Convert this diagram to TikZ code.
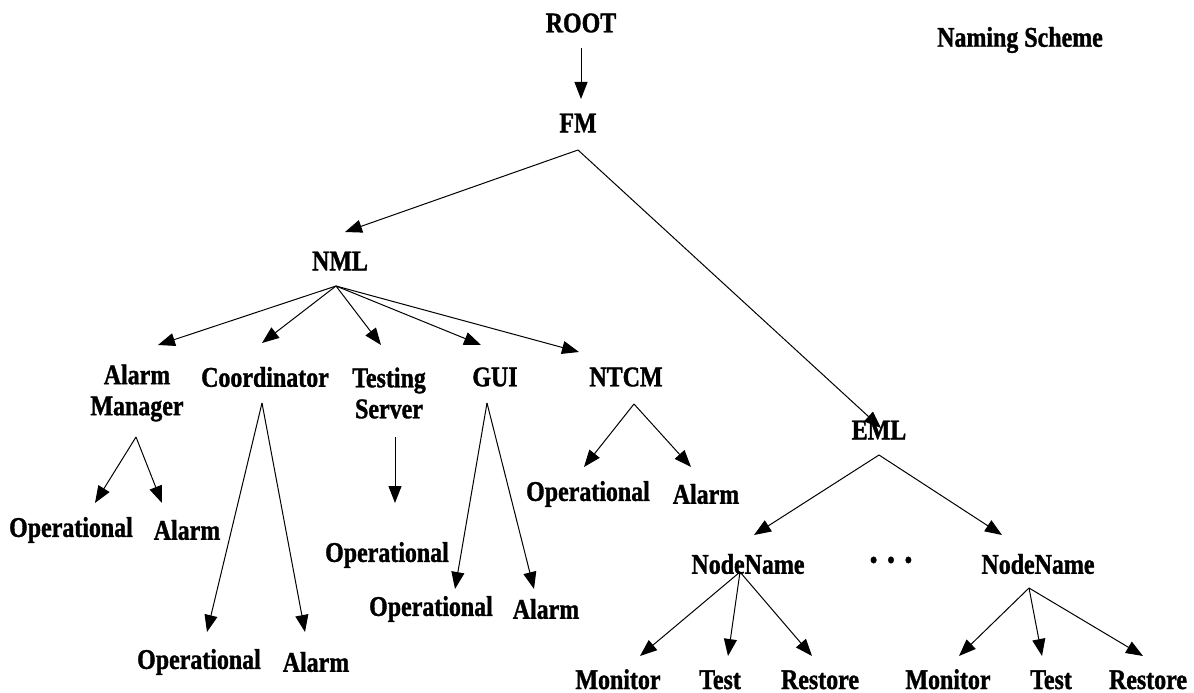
\documentclass[tikz,border=0pt]{standalone}
\usepackage{fontspec}
\setmainfont{Liberation Serif}[FakeStretch=0.84,FakeBold=1.2]
\usetikzlibrary{arrows.meta}
\begin{document}
\begin{tikzpicture}[x=1pt,y=-1pt,
  lbl/.style={inner sep=0pt,align=center,font=\fontsize{28.5}{31}\selectfont\bfseries},
  low/.style={lbl,anchor=base},
  arr/.style={-{Triangle[length=17pt,width=13pt]},line width=1pt}]
\useasboundingbox (0,0) rectangle (1194,693);

% labels
\node[lbl] (root) at (581,23) {ROOT};
\node[lbl] (fm) at (578,123) {FM};
\node[lbl] (nml) at (340,261) {NML};
\node[lbl] (naming) at (1020,40) {Naming Scheme};
\node[lbl] (am) at (137,393) {Alarm\\Manager};
\node[lbl] (coord) at (265,377) {Coordinator};
\node[lbl] (ts) at (389,393) {Testing\\Server};
\node[lbl] (gui) at (495,377) {GUI};
\node[lbl] (ntcm) at (626,377) {NTCM};
\node[lbl] (eml) at (879,430) {EML};
\node[lbl] (amop) at (71,530) {Operational};
\node[lbl] (amal) at (187,530) {Alarm};
\node[lbl] (coop) at (199,662) {Operational};
\node[lbl] (coal) at (316,662) {Alarm};
\node[lbl] (tsop) at (387,555) {Operational};
\node[lbl] (guop) at (431,609) {Operational};
\node[lbl] (gual) at (546,609) {Alarm};
\node[lbl] (ntop) at (588,494) {Operational};
\node[lbl] (ntal) at (706,494) {Alarm};
\node[lbl] (nn1) at (748,564) {NodeName};
\node[lbl,font=\fontsize{40}{40}\selectfont\bfseries] (dots) at (891,560) {.\hspace{9pt}.\hspace{9pt}.};
\node[lbl] (nn2) at (1038,564) {NodeName};
\node[low] (mon1) at (618,689) {Monitor};
\node[low] (tst1) at (720,689) {Test};
\node[low] (rst1) at (820,689) {Restore};
\node[low] (mon2) at (948,689) {Monitor};
\node[low] (tst2) at (1051,689) {Test};
\node[low] (rst2) at (1148,689) {Restore};

% branching points and arrow ends
\coordinate (rootB) at (581,48);
\coordinate (fmT) at (581,99);
\coordinate (fmB) at (578,150);
\coordinate (nmlT) at (345,232);
\coordinate (emlT) at (881,428);
\coordinate (nmlB) at (336,286);
\coordinate (amT) at (158,345);
\coordinate (coordT) at (262,343);
\coordinate (tsT) at (381,345);
\coordinate (guiT) at (481,345);
\coordinate (ntcmT) at (579,352);
\coordinate (amB) at (136,437);
\coordinate (amopT) at (95,503);
\coordinate (amalT) at (162,503);
\coordinate (coordB) at (262,403);
\coordinate (coopT) at (207,632);
\coordinate (coalT) at (305,632);
\coordinate (tsB) at (395,437);
\coordinate (tsopT) at (395,503);
\coordinate (guiB) at (487,403);
\coordinate (guopT) at (455,589);
\coordinate (gualT) at (534,589);
\coordinate (ntcmB) at (634,404);
\coordinate (ntopT) at (584,467);
\coordinate (ntalT) at (691,467);
\coordinate (emlB) at (879,455);
\coordinate (nn1T) at (754,535);
\coordinate (nn2T) at (1002,535);
\coordinate (nn1B) at (740,572);
\coordinate (mon1T) at (640,656);
\coordinate (tst1T) at (728,656);
\coordinate (rst1T) at (812,656);
\coordinate (nn2B) at (1029,588);
\coordinate (mon2T) at (959,656);
\coordinate (tst2T) at (1042,656);
\coordinate (rst2T) at (1143,656);

% connectors
\draw[arr] (rootB) -- (fmT);
\draw[arr] (fmB) -- (nmlT);
\draw[arr] (fmB) -- (emlT);
\foreach \t in {amT,coordT,tsT,guiT,ntcmT} \draw[arr] (nmlB) -- (\t);
\draw[arr] (amB) -- (amopT);
\draw[arr] (amB) -- (amalT);
\draw[arr] (coordB) -- (coopT);
\draw[arr] (coordB) -- (coalT);
\draw[arr] (tsB) -- (tsopT);
\draw[arr] (guiB) -- (guopT);
\draw[arr] (guiB) -- (gualT);
\draw[arr] (ntcmB) -- (ntopT);
\draw[arr] (ntcmB) -- (ntalT);
\draw[arr] (emlB) -- (nn1T);
\draw[arr] (emlB) -- (nn2T);
\foreach \t in {mon1T,tst1T,rst1T} \draw[arr] (nn1B) -- (\t);
\foreach \t in {mon2T,tst2T,rst2T} \draw[arr] (nn2B) -- (\t);
\end{tikzpicture}
\end{document}
